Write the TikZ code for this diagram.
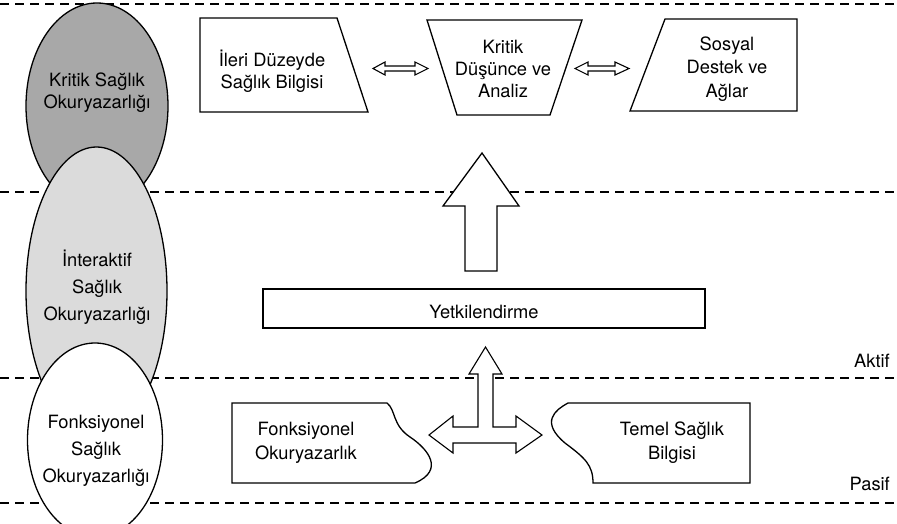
\documentclass[tikz,border=0pt]{standalone}
\usepackage{fontspec}
\setmainfont{TeX Gyre Heros}
\definecolor{critgray}{RGB}{168,168,168}
\definecolor{intgray}{RGB}{219,219,219}
\begin{document}
\begin{tikzpicture}[x=1pt,y=-1pt,
  shapeline/.style={draw=black,line width=1.3pt,fill=white,line join=miter},
  arrowshape/.style={draw=black,line width=1.1pt,fill=white,line join=miter},
  sepline/.style={draw=black,line width=1.3pt,dash pattern=on 9pt off 6pt},
  ell/.style={draw=black,line width=1.3pt},
  lbl/.style={font=\fontsize{18.3}{22}\selectfont,align=center,inner sep=0pt},
  lblwide/.style={font=\fontsize{18.3}{27}\selectfont,align=center,inner sep=0pt},
  lblmid/.style={font=\fontsize{18.3}{24}\selectfont,align=center,inner sep=0pt}
]
\useasboundingbox (0,0) rectangle (897,523);

% level separators
\draw[sepline] (0,4) -- (897,4);
\draw[sepline] (0,192) -- (897,192);
\draw[sepline] (0,378) -- (897,378);
\draw[sepline] (0,503) -- (897,503);

% ellipses
\draw[ell,fill=critgray] (97,106) ellipse [x radius=71pt, y radius=103pt];
\draw[ell,fill=intgray] (96.5,291) ellipse [x radius=70.5pt, y radius=144pt];
\draw[ell,fill=white] (95,440) ellipse [x radius=67.5pt, y radius=97pt];

\node[lbl] (kritikhl) at (97,93) {Kritik Sağlık\\Okuryazarlığı};
\node[lblwide] (interhl) at (97,287) {İnteraktif\\Sağlık\\Okuryazarlığı};
\node[lblwide] (fonkhl) at (96,451) {Fonksiyonel\\Sağlık\\Okuryazarlığı};

% top shapes
\draw[shapeline] (200,18) -- (337,18) -- (368,112) -- (200,112) -- cycle;
\node[lbl] (ileri) at (272,71) {İleri Düzeyde\\Sağlık Bilgisi};
\draw[shapeline] (427,20) -- (582,20) -- (550,115) -- (457,115) -- cycle;
\node[lbl] (kritikd) at (503,69) {Kritik\\Düşünce ve\\Analiz};
\draw[shapeline] (665,19) -- (797,19) -- (797,111) -- (630,111) -- cycle;
\node[font=\fontsize{18.3}{23.5}\selectfont,align=center,inner sep=0pt] (sosyal) at (727,69) {Sosyal\\Destek ve\\Ağlar};

% double arrows between top shapes
\draw[arrowshape] (373,68.5) -- (385,62) -- (385,66) -- (415,66) -- (415,62) -- (428,68.5)
  -- (415,75) -- (415,71) -- (385,71) -- (385,75) -- cycle;
\draw[arrowshape] (575,68.5) -- (588,62) -- (588,66) -- (615,66) -- (615,62) -- (629,68.5)
  -- (615,75) -- (615,71) -- (588,71) -- (588,75) -- cycle;

% big up arrow
\draw[arrowshape,line width=1.3pt] (482,153) -- (519,206) -- (497,206) -- (497,271) -- (465,271)
  -- (465,206) -- (443,206) -- cycle;

% Yetkilendirme box
\draw[shapeline] (263,289) rectangle (705,328);
\node[inner sep=0pt,font=\fontsize{18.3}{22}\selectfont] (yetki) at (484,311.5) {Yetkilendirme};

% three-way arrow
\draw[arrowshape] (485.5,347) -- (502,374) -- (493,374) -- (493,427) -- (516,427) -- (516,416)
  -- (542,435) -- (516,453) -- (516,443) -- (453,443) -- (453,453) -- (429,435)
  -- (453,416) -- (453,427) -- (478,427) -- (478,374) -- (469,374) -- cycle;

% bottom shapes
\draw[shapeline] (232,403) -- (387,403)
  .. controls (396,410) and (392,425) .. (410,437)
  .. controls (428,449) and (445,470) .. (415,483)
  -- (232,483) -- cycle;
\node[lblmid] (fonkok) at (306,443) {Fonksiyonel\\Okuryazarlık};
\draw[shapeline] (568,403) -- (750,403) -- (750,483) -- (593,483)
  .. controls (593,465) and (585,458) .. (565,443)
  .. controls (540,422) and (555,410) .. (568,403) -- cycle;
\node[lblmid] (temel) at (672,443) {Temel Sağlık\\Bilgisi};

% level labels
\node[inner sep=0pt,anchor=east,font=\fontsize{18.3}{22}\selectfont] (aktif) at (890,361) {Aktif};
\node[inner sep=0pt,anchor=east,font=\fontsize{18.3}{22}\selectfont] (pasif) at (890,484) {Pasif};
\end{tikzpicture}
\end{document}
